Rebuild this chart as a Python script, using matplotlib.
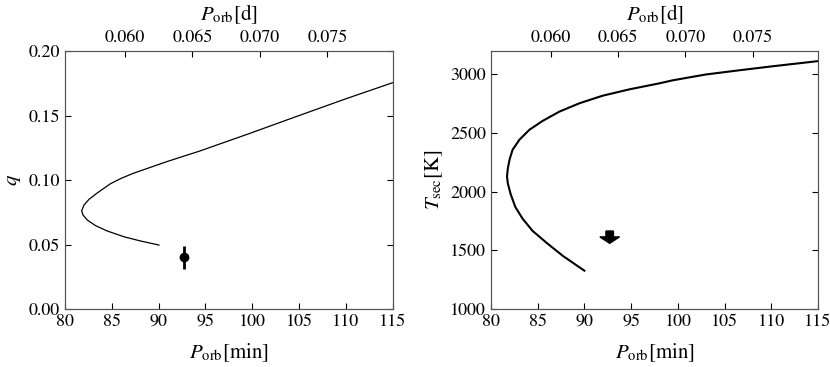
import matplotlib
matplotlib.use("Agg")
import matplotlib.pyplot as plt

# q vs P_orb (min) track
p_q = [90.03, 88.08, 86.3, 84.5, 83.27, 82.38, 81.92, 81.78, 82.03, 82.56, 83.45, 84.87,
       86.0, 87.29, 90.85, 94.4, 99.56, 105.0, 110.0, 115.0]
q_track = [0.0496, 0.0527, 0.056, 0.0605, 0.0646, 0.069, 0.0729, 0.0762, 0.0806, 0.085,
           0.0900, 0.0972, 0.1013, 0.1052, 0.1142, 0.1225, 0.1357, 0.1500, 0.1630, 0.1755]

# T_sec vs P_orb (min) track
p_t = [89.99, 87.67, 85.89, 84.45, 83.38, 82.6, 82.1, 81.8, 81.71, 81.8, 82.0, 82.31,
       83.03, 84.1, 85.52, 87.31, 89.45, 91.95, 94.8, 98.0, 99.44, 103.0, 106.6, 110.15,
       114.8, 115.0]
t_track = [1327, 1454, 1568, 1666, 1770, 1870, 1980, 2070, 2130, 2200, 2280, 2358,
           2443, 2528, 2604, 2683, 2754, 2819, 2873, 2924, 2950, 3000, 3036, 3070,
           3112, 3114]

# observation
p_obs = 92.7
q_obs = 0.040
q_err = 0.009
t_lim = 1665

plt.rcParams["font.family"] = "STIXGeneral"
plt.rcParams["mathtext.fontset"] = "stix"
plt.rcParams["font.size"] = 13

fig = plt.figure(figsize=(8.3, 3.67), dpi=100)
ax1 = fig.add_axes([0.0783, 0.158, 0.395, 0.703])
ax2 = fig.add_axes([0.5916, 0.158, 0.394, 0.703])


def style(ax):
    ax.set_xlim(80, 115)
    ax.set_xticks(range(80, 116, 5))
    ax.tick_params(direction="in", right=True, length=4)
    for s in ax.spines.values():
        s.set_color("#555555")
    ax.set_xlabel(r"$P_{\rm orb}[{\rm min}]$", fontsize=15, labelpad=8)
    top = ax.twiny()
    top.set_xlim(80 / 1440.0, 115 / 1440.0)
    top.set_xticks([0.060, 0.065, 0.070, 0.075])
    top.set_xticklabels(["0.060", "0.065", "0.070", "0.075"])
    top.tick_params(direction="in", length=4)
    top.set_xlabel(r"$P_{\rm orb}[{\rm d}]$", fontsize=15, labelpad=7)
    for s in top.spines.values():
        s.set_color("#555555")


ax1.plot(p_q, q_track, color="k", lw=0.9)
ax1.errorbar([p_obs], [q_obs], yerr=[q_err], fmt="o", color="k", ms=6, elinewidth=2)
ax1.set_ylim(0, 0.2)
ax1.set_yticks([0.0, 0.05, 0.10, 0.15, 0.20])
ax1.set_yticklabels(["0.00", "0.05", "0.10", "0.15", "0.20"])
ax1.set_ylabel(r"$q$", fontsize=15)
style(ax1)

ax2.plot(p_t, t_track, color="k", lw=1.5)
ax2.arrow(p_obs, t_lim, 0, -105, width=0.8, head_width=2.1, head_length=55,
          length_includes_head=True, color="k")
ax2.set_ylim(1000, 3200)
ax2.set_yticks([1000, 1500, 2000, 2500, 3000])
ax2.set_ylabel(r"$T_{\rm sec}[{\rm K}]$", fontsize=15)
style(ax2)

fig.savefig("out.png", dpi=100)
